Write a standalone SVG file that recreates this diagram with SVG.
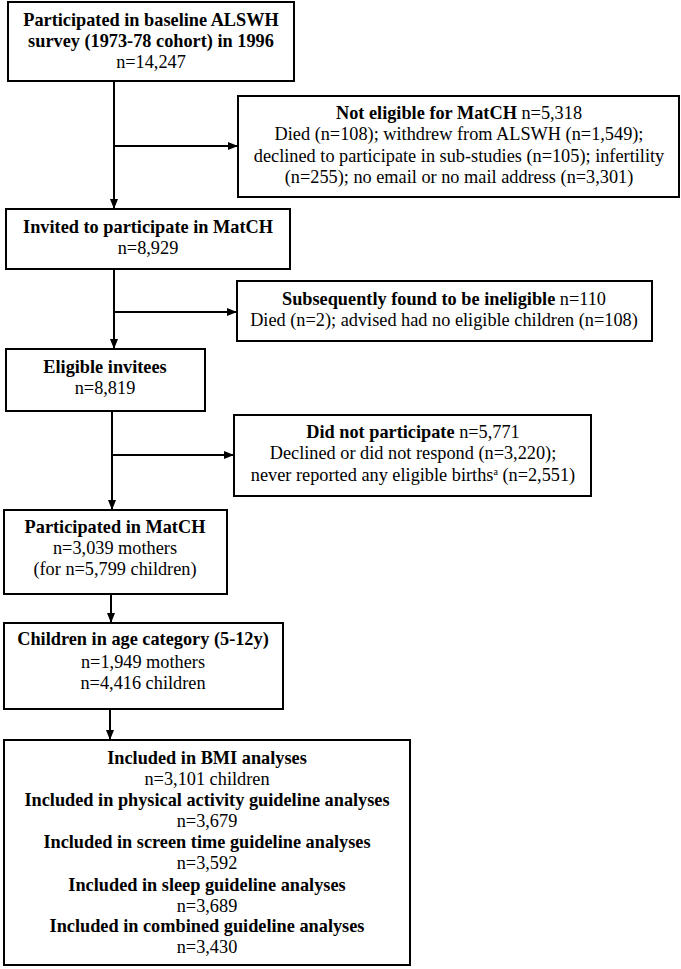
<svg xmlns="http://www.w3.org/2000/svg" width="681" height="969" viewBox="0 0 681 969">
<style>
rect.box{fill:#fff;stroke:#000;stroke-width:2}
text{font-family:"Liberation Serif","Times New Roman",serif;font-size:18.3px;fill:#000;text-anchor:middle}
.b{font-weight:bold}
.conn line{stroke:#000;stroke-width:2}
</style>
<defs>
<marker id="arr" viewBox="0 0 10 8" refX="10" refY="4" markerWidth="10" markerHeight="8" markerUnits="userSpaceOnUse" orient="auto">
<path d="M0,0 L10,4 L0,8 Z" fill="#000"/>
</marker>
</defs>
<rect width="681" height="969" fill="#fff"/>
<g class="conn">
<line x1="114" y1="81" x2="114" y2="209" marker-end="url(#arr)"/>
<line x1="114" y1="146" x2="238" y2="146" marker-end="url(#arr)"/>
<line x1="114" y1="269" x2="114" y2="349" marker-end="url(#arr)"/>
<line x1="114" y1="312" x2="237" y2="312" marker-end="url(#arr)"/>
<line x1="112" y1="411" x2="112" y2="510" marker-end="url(#arr)"/>
<line x1="112" y1="455" x2="234" y2="455" marker-end="url(#arr)"/>
<line x1="111" y1="594" x2="111" y2="623" marker-end="url(#arr)"/>
<line x1="110" y1="709" x2="110" y2="740" marker-end="url(#arr)"/>
</g>
<g id="baseline">
<rect class="box" x="8" y="2" width="286" height="79"/>
<text x="151" y="26" class="b">Participated in baseline ALSWH</text>
<text x="151" y="47" class="b">survey (1973-78 cohort) in 1996</text>
<text x="151" y="68">n=14,247</text>
</g>
<g id="noteligible">
<rect class="box" x="238" y="96" width="441" height="101"/>
<text x="459" y="119"><tspan class="b">Not eligible for MatCH</tspan> n=5,318</text>
<text x="459" y="140">Died (n=108); withdrew from ALSWH (n=1,549);</text>
<text x="459" y="162">declined to participate in sub-studies (n=105); infertility</text>
<text x="459" y="183">(n=255); no email or no mail address (n=3,301)</text>
</g>
<g id="invited">
<rect class="box" x="6" y="209" width="284" height="60"/>
<text x="148" y="233" class="b">Invited to participate in MatCH</text>
<text x="148" y="254">n=8,929</text>
</g>
<g id="ineligible">
<rect class="box" x="237" y="281" width="415" height="60"/>
<text x="444" y="305"><tspan class="b">Subsequently found to be ineligible</tspan> n=110</text>
<text x="444" y="326">Died (n=2); advised had no eligible children (n=108)</text>
</g>
<g id="eligible">
<rect class="box" x="6" y="349" width="199" height="62"/>
<text x="105" y="373" class="b">Eligible invitees</text>
<text x="105" y="394">n=8,819</text>
</g>
<g id="notparticipate">
<rect class="box" x="234" y="415" width="357" height="81"/>
<text x="413" y="438"><tspan class="b">Did not participate</tspan> n=5,771</text>
<text x="413" y="459">Declined or did not respond (n=3,220);</text>
<text x="413" y="481">never reported any eligible births<tspan font-size="10" dy="-6">a</tspan><tspan dy="6"> (n=2,551)</tspan></text>
</g>
<g id="participated">
<rect class="box" x="4" y="510" width="223" height="84"/>
<text x="115" y="533" class="b">Participated in MatCH</text>
<text x="115" y="554">n=3,039 mothers</text>
<text x="115" y="575">(for n=5,799 children)</text>
</g>
<g id="children">
<rect class="box" x="4" y="623" width="279" height="86"/>
<text x="143" y="645" class="b">Children in age category (5-12y)</text>
<text x="143" y="668">n=1,949 mothers</text>
<text x="143" y="689">n=4,416 children</text>
</g>
<g id="included">
<rect class="box" x="4" y="740" width="406" height="225"/>
<text x="207" y="764" class="b">Included in BMI analyses</text>
<text x="207" y="785">n=3,101 children</text>
<text x="207" y="806" class="b">Included in physical activity guideline analyses</text>
<text x="207" y="827">n=3,679</text>
<text x="207" y="848" class="b">Included in screen time guideline analyses</text>
<text x="207" y="869">n=3,592</text>
<text x="207" y="891" class="b">Included in sleep guideline analyses</text>
<text x="207" y="912">n=3,689</text>
<text x="207" y="932" class="b">Included in combined guideline analyses</text>
<text x="207" y="953">n=3,430</text>
</g>
</svg>
